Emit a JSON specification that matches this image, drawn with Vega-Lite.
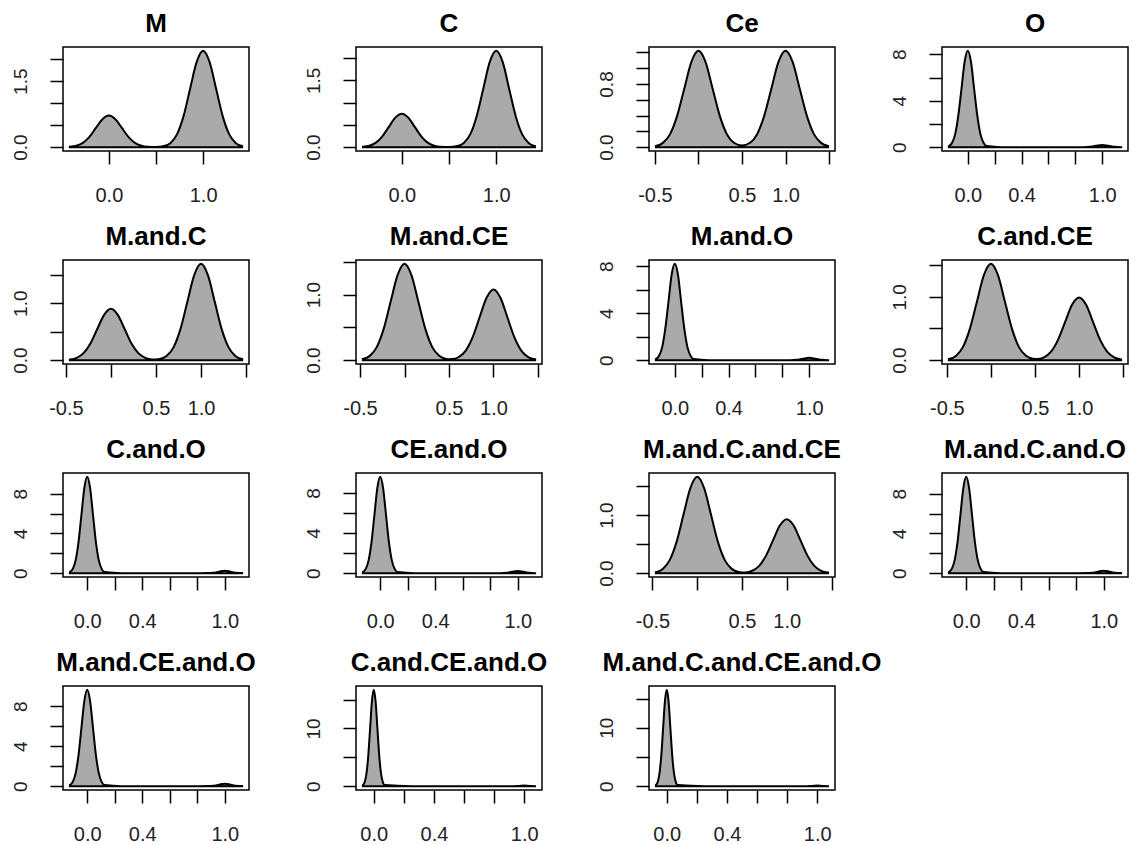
{
"$schema":"https://vega.github.io/schema/vega-lite/v6.json",
"background":"white",
"padding":{"left":10,"top":10,"right":5,"bottom":5},
"bounds":"flush",
"columns":4,
"spacing":{"row":109,"column":107},
"data":{"values":[
{"p":"M","x":-0.414,"y":0.008},{"p":"M","x":-0.345,"y":0.032},{"p":"M","x":-0.276,"y":0.097},{"p":"M","x":-0.207,"y":0.234},{"p":"M","x":-0.138,"y":0.437},{"p":"M","x":-0.069,"y":0.635},{"p":"M","x":0,"y":0.72},{"p":"M","x":0.069,"y":0.635},{"p":"M","x":0.138,"y":0.437},{"p":"M","x":0.207,"y":0.234},{"p":"M","x":0.276,"y":0.097},{"p":"M","x":0.345,"y":0.032},{"p":"M","x":0.414,"y":0.008},{"p":"M","x":0.5,"y":0.002},{"p":"M","x":0.586,"y":0.024},{"p":"M","x":0.655,"y":0.096},{"p":"M","x":0.724,"y":0.296},{"p":"M","x":0.793,"y":0.711},{"p":"M","x":0.862,"y":1.328},{"p":"M","x":0.931,"y":1.933},{"p":"M","x":1,"y":2.19},{"p":"M","x":1.069,"y":1.933},{"p":"M","x":1.138,"y":1.328},{"p":"M","x":1.207,"y":0.711},{"p":"M","x":1.276,"y":0.296},{"p":"M","x":1.345,"y":0.096},{"p":"M","x":1.414,"y":0.024},
{"p":"C","x":-0.411,"y":0.008},{"p":"C","x":-0.343,"y":0.033},{"p":"C","x":-0.274,"y":0.101},{"p":"C","x":-0.206,"y":0.244},{"p":"C","x":-0.137,"y":0.455},{"p":"C","x":-0.069,"y":0.662},{"p":"C","x":0,"y":0.75},{"p":"C","x":0.069,"y":0.662},{"p":"C","x":0.137,"y":0.455},{"p":"C","x":0.206,"y":0.244},{"p":"C","x":0.274,"y":0.101},{"p":"C","x":0.343,"y":0.033},{"p":"C","x":0.411,"y":0.008},{"p":"C","x":0.5,"y":0.002},{"p":"C","x":0.589,"y":0.024},{"p":"C","x":0.657,"y":0.095},{"p":"C","x":0.726,"y":0.292},{"p":"C","x":0.794,"y":0.701},{"p":"C","x":0.863,"y":1.31},{"p":"C","x":0.931,"y":1.906},{"p":"C","x":1,"y":2.16},{"p":"C","x":1.069,"y":1.906},{"p":"C","x":1.137,"y":1.31},{"p":"C","x":1.206,"y":0.701},{"p":"C","x":1.274,"y":0.292},{"p":"C","x":1.343,"y":0.095},{"p":"C","x":1.411,"y":0.024},
{"p":"Ce","x":-0.489,"y":0.014},{"p":"Ce","x":-0.408,"y":0.054},{"p":"Ce","x":-0.326,"y":0.165},{"p":"Ce","x":-0.245,"y":0.396},{"p":"Ce","x":-0.163,"y":0.74},{"p":"Ce","x":-0.082,"y":1.077},{"p":"Ce","x":0,"y":1.22},{"p":"Ce","x":0.082,"y":1.077},{"p":"Ce","x":0.163,"y":0.74},{"p":"Ce","x":0.245,"y":0.396},{"p":"Ce","x":0.326,"y":0.165},{"p":"Ce","x":0.408,"y":0.056},{"p":"Ce","x":0.5,"y":0.022},{"p":"Ce","x":0.592,"y":0.056},{"p":"Ce","x":0.674,"y":0.165},{"p":"Ce","x":0.755,"y":0.396},{"p":"Ce","x":0.837,"y":0.74},{"p":"Ce","x":0.918,"y":1.077},{"p":"Ce","x":1,"y":1.22},{"p":"Ce","x":1.082,"y":1.077},{"p":"Ce","x":1.163,"y":0.74},{"p":"Ce","x":1.245,"y":0.396},{"p":"Ce","x":1.326,"y":0.165},{"p":"Ce","x":1.408,"y":0.054},{"p":"Ce","x":1.489,"y":0.014},
{"p":"O","x":-0.141,"y":0.092},{"p":"O","x":-0.118,"y":0.364},{"p":"O","x":-0.094,"y":1.123},{"p":"O","x":-0.071,"y":2.695},{"p":"O","x":-0.047,"y":5.034},{"p":"O","x":-0.024,"y":7.325},{"p":"O","x":0,"y":8.3},{"p":"O","x":0.024,"y":7.325},{"p":"O","x":0.047,"y":5.034},{"p":"O","x":0.071,"y":2.695},{"p":"O","x":0.094,"y":1.123},{"p":"O","x":0.118,"y":0.364},{"p":"O","x":0.141,"y":0.092},{"p":"O","x":0.25,"y":0},{"p":"O","x":0.5,"y":0},{"p":"O","x":0.75,"y":0},{"p":"O","x":0.859,"y":0.002},{"p":"O","x":0.906,"y":0.026},{"p":"O","x":0.953,"y":0.115},{"p":"O","x":1,"y":0.19},{"p":"O","x":1.047,"y":0.115},{"p":"O","x":1.094,"y":0.026},{"p":"O","x":1.141,"y":0.002},
{"p":"M.and.C","x":-0.456,"y":0.01},{"p":"M.and.C","x":-0.38,"y":0.04},{"p":"M.and.C","x":-0.304,"y":0.122},{"p":"M.and.C","x":-0.228,"y":0.292},{"p":"M.and.C","x":-0.152,"y":0.546},{"p":"M.and.C","x":-0.076,"y":0.794},{"p":"M.and.C","x":0,"y":0.9},{"p":"M.and.C","x":0.076,"y":0.794},{"p":"M.and.C","x":0.152,"y":0.546},{"p":"M.and.C","x":0.228,"y":0.292},{"p":"M.and.C","x":0.304,"y":0.122},{"p":"M.and.C","x":0.38,"y":0.041},{"p":"M.and.C","x":0.456,"y":0.013},{"p":"M.and.C","x":0.5,"y":0.012},{"p":"M.and.C","x":0.544,"y":0.02},{"p":"M.and.C","x":0.62,"y":0.075},{"p":"M.and.C","x":0.696,"y":0.229},{"p":"M.and.C","x":0.772,"y":0.549},{"p":"M.and.C","x":0.848,"y":1.025},{"p":"M.and.C","x":0.924,"y":1.491},{"p":"M.and.C","x":1,"y":1.69},{"p":"M.and.C","x":1.076,"y":1.491},{"p":"M.and.C","x":1.152,"y":1.025},{"p":"M.and.C","x":1.228,"y":0.549},{"p":"M.and.C","x":1.304,"y":0.229},{"p":"M.and.C","x":1.38,"y":0.074},{"p":"M.and.C","x":1.456,"y":0.019},
{"p":"M.and.CE","x":-0.468,"y":0.016},{"p":"M.and.CE","x":-0.39,"y":0.065},{"p":"M.and.CE","x":-0.312,"y":0.199},{"p":"M.and.CE","x":-0.234,"y":0.477},{"p":"M.and.CE","x":-0.156,"y":0.892},{"p":"M.and.CE","x":-0.078,"y":1.297},{"p":"M.and.CE","x":0,"y":1.47},{"p":"M.and.CE","x":0.078,"y":1.297},{"p":"M.and.CE","x":0.156,"y":0.892},{"p":"M.and.CE","x":0.234,"y":0.477},{"p":"M.and.CE","x":0.312,"y":0.199},{"p":"M.and.CE","x":0.39,"y":0.066},{"p":"M.and.CE","x":0.468,"y":0.019},{"p":"M.and.CE","x":0.5,"y":0.015},{"p":"M.and.CE","x":0.532,"y":0.016},{"p":"M.and.CE","x":0.61,"y":0.048},{"p":"M.and.CE","x":0.688,"y":0.146},{"p":"M.and.CE","x":0.766,"y":0.351},{"p":"M.and.CE","x":0.844,"y":0.655},{"p":"M.and.CE","x":0.922,"y":0.953},{"p":"M.and.CE","x":1,"y":1.08},{"p":"M.and.CE","x":1.078,"y":0.953},{"p":"M.and.CE","x":1.156,"y":0.655},{"p":"M.and.CE","x":1.234,"y":0.351},{"p":"M.and.CE","x":1.312,"y":0.146},{"p":"M.and.CE","x":1.39,"y":0.047},{"p":"M.and.CE","x":1.468,"y":0.012},
{"p":"M.and.O","x":-0.141,"y":0.091},{"p":"M.and.O","x":-0.118,"y":0.36},{"p":"M.and.O","x":-0.094,"y":1.109},{"p":"M.and.O","x":-0.071,"y":2.663},{"p":"M.and.O","x":-0.047,"y":4.973},{"p":"M.and.O","x":-0.024,"y":7.237},{"p":"M.and.O","x":0,"y":8.2},{"p":"M.and.O","x":0.024,"y":7.237},{"p":"M.and.O","x":0.047,"y":4.973},{"p":"M.and.O","x":0.071,"y":2.663},{"p":"M.and.O","x":0.094,"y":1.109},{"p":"M.and.O","x":0.118,"y":0.36},{"p":"M.and.O","x":0.141,"y":0.091},{"p":"M.and.O","x":0.25,"y":0},{"p":"M.and.O","x":0.5,"y":0},{"p":"M.and.O","x":0.75,"y":0},{"p":"M.and.O","x":0.859,"y":0.002},{"p":"M.and.O","x":0.906,"y":0.027},{"p":"M.and.O","x":0.953,"y":0.121},{"p":"M.and.O","x":1,"y":0.2},{"p":"M.and.O","x":1.047,"y":0.121},{"p":"M.and.O","x":1.094,"y":0.027},{"p":"M.and.O","x":1.141,"y":0.002},
{"p":"C.and.CE","x":-0.477,"y":0.017},{"p":"C.and.CE","x":-0.398,"y":0.067},{"p":"C.and.CE","x":-0.318,"y":0.206},{"p":"C.and.CE","x":-0.239,"y":0.494},{"p":"C.and.CE","x":-0.159,"y":0.922},{"p":"C.and.CE","x":-0.08,"y":1.341},{"p":"C.and.CE","x":0,"y":1.52},{"p":"C.and.CE","x":0.08,"y":1.341},{"p":"C.and.CE","x":0.159,"y":0.922},{"p":"C.and.CE","x":0.239,"y":0.494},{"p":"C.and.CE","x":0.318,"y":0.206},{"p":"C.and.CE","x":0.398,"y":0.068},{"p":"C.and.CE","x":0.477,"y":0.021},{"p":"C.and.CE","x":0.5,"y":0.018},{"p":"C.and.CE","x":0.523,"y":0.017},{"p":"C.and.CE","x":0.602,"y":0.045},{"p":"C.and.CE","x":0.682,"y":0.134},{"p":"C.and.CE","x":0.761,"y":0.321},{"p":"C.and.CE","x":0.841,"y":0.6},{"p":"C.and.CE","x":0.92,"y":0.874},{"p":"C.and.CE","x":1,"y":0.99},{"p":"C.and.CE","x":1.08,"y":0.874},{"p":"C.and.CE","x":1.159,"y":0.6},{"p":"C.and.CE","x":1.239,"y":0.321},{"p":"C.and.CE","x":1.318,"y":0.134},{"p":"C.and.CE","x":1.398,"y":0.043},{"p":"C.and.CE","x":1.477,"y":0.011},
{"p":"C.and.O","x":-0.126,"y":0.108},{"p":"C.and.O","x":-0.105,"y":0.426},{"p":"C.and.O","x":-0.084,"y":1.312},{"p":"C.and.O","x":-0.063,"y":3.15},{"p":"C.and.O","x":-0.042,"y":5.883},{"p":"C.and.O","x":-0.021,"y":8.56},{"p":"C.and.O","x":0,"y":9.7},{"p":"C.and.O","x":0.021,"y":8.56},{"p":"C.and.O","x":0.042,"y":5.883},{"p":"C.and.O","x":0.063,"y":3.15},{"p":"C.and.O","x":0.084,"y":1.312},{"p":"C.and.O","x":0.105,"y":0.426},{"p":"C.and.O","x":0.126,"y":0.108},{"p":"C.and.O","x":0.25,"y":0},{"p":"C.and.O","x":0.5,"y":0},{"p":"C.and.O","x":0.75,"y":0},{"p":"C.and.O","x":0.874,"y":0.003},{"p":"C.and.O","x":0.916,"y":0.034},{"p":"C.and.O","x":0.958,"y":0.152},{"p":"C.and.O","x":1,"y":0.25},{"p":"C.and.O","x":1.042,"y":0.152},{"p":"C.and.O","x":1.084,"y":0.034},{"p":"C.and.O","x":1.126,"y":0.003},
{"p":"CE.and.O","x":-0.126,"y":0.107},{"p":"CE.and.O","x":-0.105,"y":0.421},{"p":"CE.and.O","x":-0.084,"y":1.299},{"p":"CE.and.O","x":-0.063,"y":3.117},{"p":"CE.and.O","x":-0.042,"y":5.822},{"p":"CE.and.O","x":-0.021,"y":8.472},{"p":"CE.and.O","x":0,"y":9.6},{"p":"CE.and.O","x":0.021,"y":8.472},{"p":"CE.and.O","x":0.042,"y":5.822},{"p":"CE.and.O","x":0.063,"y":3.117},{"p":"CE.and.O","x":0.084,"y":1.299},{"p":"CE.and.O","x":0.105,"y":0.421},{"p":"CE.and.O","x":0.126,"y":0.107},{"p":"CE.and.O","x":0.25,"y":0},{"p":"CE.and.O","x":0.5,"y":0},{"p":"CE.and.O","x":0.75,"y":0},{"p":"CE.and.O","x":0.874,"y":0.002},{"p":"CE.and.O","x":0.916,"y":0.03},{"p":"CE.and.O","x":0.958,"y":0.133},{"p":"CE.and.O","x":1,"y":0.22},{"p":"CE.and.O","x":1.042,"y":0.133},{"p":"CE.and.O","x":1.084,"y":0.03},{"p":"CE.and.O","x":1.126,"y":0.002},
{"p":"M.and.C.and.CE","x":-0.462,"y":0.018},{"p":"M.and.C.and.CE","x":-0.385,"y":0.073},{"p":"M.and.C.and.CE","x":-0.308,"y":0.225},{"p":"M.and.C.and.CE","x":-0.231,"y":0.539},{"p":"M.and.C.and.CE","x":-0.154,"y":1.007},{"p":"M.and.C.and.CE","x":-0.077,"y":1.465},{"p":"M.and.C.and.CE","x":0,"y":1.66},{"p":"M.and.C.and.CE","x":0.077,"y":1.465},{"p":"M.and.C.and.CE","x":0.154,"y":1.007},{"p":"M.and.C.and.CE","x":0.231,"y":0.539},{"p":"M.and.C.and.CE","x":0.308,"y":0.225},{"p":"M.and.C.and.CE","x":0.385,"y":0.074},{"p":"M.and.C.and.CE","x":0.462,"y":0.02},{"p":"M.and.C.and.CE","x":0.5,"y":0.013},{"p":"M.and.C.and.CE","x":0.538,"y":0.013},{"p":"M.and.C.and.CE","x":0.615,"y":0.042},{"p":"M.and.C.and.CE","x":0.692,"y":0.126},{"p":"M.and.C.and.CE","x":0.769,"y":0.302},{"p":"M.and.C.and.CE","x":0.846,"y":0.564},{"p":"M.and.C.and.CE","x":0.923,"y":0.821},{"p":"M.and.C.and.CE","x":1,"y":0.93},{"p":"M.and.C.and.CE","x":1.077,"y":0.821},{"p":"M.and.C.and.CE","x":1.154,"y":0.564},{"p":"M.and.C.and.CE","x":1.231,"y":0.302},{"p":"M.and.C.and.CE","x":1.308,"y":0.126},{"p":"M.and.C.and.CE","x":1.385,"y":0.041},{"p":"M.and.C.and.CE","x":1.462,"y":0.01},
{"p":"M.and.C.and.O","x":-0.126,"y":0.108},{"p":"M.and.C.and.O","x":-0.105,"y":0.426},{"p":"M.and.C.and.O","x":-0.084,"y":1.312},{"p":"M.and.C.and.O","x":-0.063,"y":3.15},{"p":"M.and.C.and.O","x":-0.042,"y":5.883},{"p":"M.and.C.and.O","x":-0.021,"y":8.56},{"p":"M.and.C.and.O","x":0,"y":9.7},{"p":"M.and.C.and.O","x":0.021,"y":8.56},{"p":"M.and.C.and.O","x":0.042,"y":5.883},{"p":"M.and.C.and.O","x":0.063,"y":3.15},{"p":"M.and.C.and.O","x":0.084,"y":1.312},{"p":"M.and.C.and.O","x":0.105,"y":0.426},{"p":"M.and.C.and.O","x":0.126,"y":0.108},{"p":"M.and.C.and.O","x":0.25,"y":0},{"p":"M.and.C.and.O","x":0.5,"y":0},{"p":"M.and.C.and.O","x":0.75,"y":0},{"p":"M.and.C.and.O","x":0.874,"y":0.003},{"p":"M.and.C.and.O","x":0.916,"y":0.034},{"p":"M.and.C.and.O","x":0.958,"y":0.152},{"p":"M.and.C.and.O","x":1,"y":0.25},{"p":"M.and.C.and.O","x":1.042,"y":0.152},{"p":"M.and.C.and.O","x":1.084,"y":0.034},{"p":"M.and.C.and.O","x":1.126,"y":0.003},
{"p":"M.and.CE.and.O","x":-0.126,"y":0.107},{"p":"M.and.CE.and.O","x":-0.105,"y":0.424},{"p":"M.and.CE.and.O","x":-0.084,"y":1.306},{"p":"M.and.CE.and.O","x":-0.063,"y":3.133},{"p":"M.and.CE.and.O","x":-0.042,"y":5.853},{"p":"M.and.CE.and.O","x":-0.021,"y":8.516},{"p":"M.and.CE.and.O","x":0,"y":9.65},{"p":"M.and.CE.and.O","x":0.021,"y":8.516},{"p":"M.and.CE.and.O","x":0.042,"y":5.853},{"p":"M.and.CE.and.O","x":0.063,"y":3.133},{"p":"M.and.CE.and.O","x":0.084,"y":1.306},{"p":"M.and.CE.and.O","x":0.105,"y":0.424},{"p":"M.and.CE.and.O","x":0.126,"y":0.107},{"p":"M.and.CE.and.O","x":0.25,"y":0},{"p":"M.and.CE.and.O","x":0.5,"y":0},{"p":"M.and.CE.and.O","x":0.75,"y":0},{"p":"M.and.CE.and.O","x":0.874,"y":0.003},{"p":"M.and.CE.and.O","x":0.916,"y":0.034},{"p":"M.and.CE.and.O","x":0.958,"y":0.152},{"p":"M.and.CE.and.O","x":1,"y":0.25},{"p":"M.and.CE.and.O","x":1.042,"y":0.152},{"p":"M.and.CE.and.O","x":1.084,"y":0.034},{"p":"M.and.CE.and.O","x":1.126,"y":0.003},
{"p":"C.and.CE.and.O","x":-0.072,"y":0.185},{"p":"C.and.CE.and.O","x":-0.06,"y":0.733},{"p":"C.and.CE.and.O","x":-0.048,"y":2.26},{"p":"C.and.CE.and.O","x":-0.036,"y":5.422},{"p":"C.and.CE.and.O","x":-0.024,"y":10.129},{"p":"C.and.CE.and.O","x":-0.012,"y":14.738},{"p":"C.and.CE.and.O","x":0,"y":16.7},{"p":"C.and.CE.and.O","x":0.012,"y":14.738},{"p":"C.and.CE.and.O","x":0.024,"y":10.129},{"p":"C.and.CE.and.O","x":0.036,"y":5.422},{"p":"C.and.CE.and.O","x":0.048,"y":2.26},{"p":"C.and.CE.and.O","x":0.06,"y":0.733},{"p":"C.and.CE.and.O","x":0.072,"y":0.185},{"p":"C.and.CE.and.O","x":0.25,"y":0},{"p":"C.and.CE.and.O","x":0.5,"y":0},{"p":"C.and.CE.and.O","x":0.75,"y":0},{"p":"C.and.CE.and.O","x":0.928,"y":0.001},{"p":"C.and.CE.and.O","x":0.952,"y":0.014},{"p":"C.and.CE.and.O","x":0.976,"y":0.061},{"p":"C.and.CE.and.O","x":1,"y":0.1},{"p":"C.and.CE.and.O","x":1.024,"y":0.061},{"p":"C.and.CE.and.O","x":1.048,"y":0.014},{"p":"C.and.CE.and.O","x":1.072,"y":0.001},
{"p":"M.and.C.and.CE.and.O","x":-0.072,"y":0.183},{"p":"M.and.C.and.CE.and.O","x":-0.06,"y":0.724},{"p":"M.and.C.and.CE.and.O","x":-0.048,"y":2.232},{"p":"M.and.C.and.CE.and.O","x":-0.036,"y":5.358},{"p":"M.and.C.and.CE.and.O","x":-0.024,"y":10.007},{"p":"M.and.C.and.CE.and.O","x":-0.012,"y":14.561},{"p":"M.and.C.and.CE.and.O","x":0,"y":16.5},{"p":"M.and.C.and.CE.and.O","x":0.012,"y":14.561},{"p":"M.and.C.and.CE.and.O","x":0.024,"y":10.007},{"p":"M.and.C.and.CE.and.O","x":0.036,"y":5.358},{"p":"M.and.C.and.CE.and.O","x":0.048,"y":2.232},{"p":"M.and.C.and.CE.and.O","x":0.06,"y":0.724},{"p":"M.and.C.and.CE.and.O","x":0.072,"y":0.183},{"p":"M.and.C.and.CE.and.O","x":0.25,"y":0},{"p":"M.and.C.and.CE.and.O","x":0.5,"y":0},{"p":"M.and.C.and.CE.and.O","x":0.75,"y":0},{"p":"M.and.C.and.CE.and.O","x":0.928,"y":0.001},{"p":"M.and.C.and.CE.and.O","x":0.952,"y":0.014},{"p":"M.and.C.and.CE.and.O","x":0.976,"y":0.061},{"p":"M.and.C.and.CE.and.O","x":1,"y":0.1},{"p":"M.and.C.and.CE.and.O","x":1.024,"y":0.061},{"p":"M.and.C.and.CE.and.O","x":1.048,"y":0.014},{"p":"M.and.C.and.CE.and.O","x":1.072,"y":0.001}
]},
"config":{
"view":{"stroke":"black","strokeWidth":1.5,"continuousWidth":186,"continuousHeight":104},
"font":"Liberation Sans",
"title":{"font":"Liberation Sans","fontSize":26,"fontWeight":"bold","color":"black","anchor":"middle","frame":"group","baseline":"alphabetic","offset":10},
"axis":{"domain":false,"grid":false,"ticks":true,"tickColor":"black","tickWidth":1.5,"tickSize":13,"labelColor":"#222222","labelFont":"Liberation Sans","labelOverlap":false,"labelFlush":false},
"axisX":{"labelFontSize":20,"labelBaseline":"alphabetic","labelPadding":37,"labelAlign":"center","labelAngle":0},
"axisY":{"labelFontSize":19,"labelAngle":-90,"labelAlign":"center","labelBaseline":"alphabetic","labelPadding":24}
},
"concat":[
{"title":"M","transform":[{"filter":"datum.p==='M'"}],"mark":{"type":"area","interpolate":"monotone","fill":"#AAAAAA","stroke":"black","strokeWidth":2,"opacity":1},
 "encoding":{"x":{"field":"x","type":"quantitative","title":null,"scale":{"domain":[-0.487,1.487],"nice":false,"zero":false},"axis":{"values":[0,0.5,1],"labelExpr":"datum.value == 0 ? '0.0' : datum.value == 1 ? '1.0' : ''"}},
 "y":{"field":"y","type":"quantitative","title":null,"scale":{"domain":[-0.088,2.278],"nice":false,"zero":false},"axis":{"values":[0,0.5,1,1.5,2],"labelExpr":"datum.value == 0 ? '0.0' : datum.value == 1.5 ? '1.5' : ''"}},"y2":{"datum":0}}},
{"title":"C","transform":[{"filter":"datum.p==='C'"}],"mark":{"type":"area","interpolate":"monotone","fill":"#AAAAAA","stroke":"black","strokeWidth":2,"opacity":1},
 "encoding":{"x":{"field":"x","type":"quantitative","title":null,"scale":{"domain":[-0.485,1.485],"nice":false,"zero":false},"axis":{"values":[0,0.5,1],"labelExpr":"datum.value == 0 ? '0.0' : datum.value == 1 ? '1.0' : ''"}},
 "y":{"field":"y","type":"quantitative","title":null,"scale":{"domain":[-0.086,2.246],"nice":false,"zero":false},"axis":{"values":[0,0.5,1,1.5,2],"labelExpr":"datum.value == 0 ? '0.0' : datum.value == 1.5 ? '1.5' : ''"}},"y2":{"datum":0}}},
{"title":"Ce","transform":[{"filter":"datum.p==='Ce'"}],"mark":{"type":"area","interpolate":"monotone","fill":"#AAAAAA","stroke":"black","strokeWidth":2,"opacity":1},
 "encoding":{"x":{"field":"x","type":"quantitative","title":null,"scale":{"domain":[-0.568,1.568],"nice":false,"zero":false},"axis":{"values":[-0.5,0,0.5,1,1.5],"labelExpr":"datum.value == -0.5 ? '-0.5' : datum.value == 0.5 ? '0.5' : datum.value == 1 ? '1.0' : ''"}},
 "y":{"field":"y","type":"quantitative","title":null,"scale":{"domain":[-0.049,1.269],"nice":false,"zero":false},"axis":{"values":[0,0.2,0.4,0.6,0.8,1,1.2],"labelExpr":"datum.value == 0 ? '0.0' : datum.value == 0.8 ? '0.8' : ''"}},"y2":{"datum":0}}},
{"title":"O","transform":[{"filter":"datum.p==='O'"}],"mark":{"type":"area","interpolate":"monotone","fill":"#AAAAAA","stroke":"black","strokeWidth":2,"opacity":1},
 "encoding":{"x":{"field":"x","type":"quantitative","title":null,"scale":{"domain":[-0.192,1.192],"nice":false,"zero":false},"axis":{"values":[0,0.2,0.4,0.6,0.8,1],"labelExpr":"datum.value == 0 ? '0.0' : datum.value == 0.4 ? '0.4' : datum.value == 1 ? '1.0' : ''"}},
 "y":{"field":"y","type":"quantitative","title":null,"scale":{"domain":[-0.332,8.632],"nice":false,"zero":false},"axis":{"values":[0,2,4,6,8],"labelExpr":"datum.value == 0 ? '0' : datum.value == 4 ? '4' : datum.value == 8 ? '8' : ''"}},"y2":{"datum":0}}},
{"title":"M.and.C","transform":[{"filter":"datum.p==='M.and.C'"}],"mark":{"type":"area","interpolate":"monotone","fill":"#AAAAAA","stroke":"black","strokeWidth":2,"opacity":1},
 "encoding":{"x":{"field":"x","type":"quantitative","title":null,"scale":{"domain":[-0.532,1.532],"nice":false,"zero":false},"axis":{"values":[-0.5,0,0.5,1,1.5],"labelExpr":"datum.value == -0.5 ? '-0.5' : datum.value == 0.5 ? '0.5' : datum.value == 1 ? '1.0' : ''"}},
 "y":{"field":"y","type":"quantitative","title":null,"scale":{"domain":[-0.068,1.758],"nice":false,"zero":false},"axis":{"values":[0,0.5,1,1.5],"labelExpr":"datum.value == 0 ? '0.0' : datum.value == 1 ? '1.0' : ''"}},"y2":{"datum":0}}},
{"title":"M.and.CE","transform":[{"filter":"datum.p==='M.and.CE'"}],"mark":{"type":"area","interpolate":"monotone","fill":"#AAAAAA","stroke":"black","strokeWidth":2,"opacity":1},
 "encoding":{"x":{"field":"x","type":"quantitative","title":null,"scale":{"domain":[-0.545,1.545],"nice":false,"zero":false},"axis":{"values":[-0.5,0,0.5,1,1.5],"labelExpr":"datum.value == -0.5 ? '-0.5' : datum.value == 0.5 ? '0.5' : datum.value == 1 ? '1.0' : ''"}},
 "y":{"field":"y","type":"quantitative","title":null,"scale":{"domain":[-0.059,1.529],"nice":false,"zero":false},"axis":{"values":[0,0.5,1,1.5],"labelExpr":"datum.value == 0 ? '0.0' : datum.value == 1 ? '1.0' : ''"}},"y2":{"datum":0}}},
{"title":"M.and.O","transform":[{"filter":"datum.p==='M.and.O'"}],"mark":{"type":"area","interpolate":"monotone","fill":"#AAAAAA","stroke":"black","strokeWidth":2,"opacity":1},
 "encoding":{"x":{"field":"x","type":"quantitative","title":null,"scale":{"domain":[-0.192,1.192],"nice":false,"zero":false},"axis":{"values":[0,0.2,0.4,0.6,0.8,1],"labelExpr":"datum.value == 0 ? '0.0' : datum.value == 0.4 ? '0.4' : datum.value == 1 ? '1.0' : ''"}},
 "y":{"field":"y","type":"quantitative","title":null,"scale":{"domain":[-0.328,8.528],"nice":false,"zero":false},"axis":{"values":[0,2,4,6,8],"labelExpr":"datum.value == 0 ? '0' : datum.value == 4 ? '4' : datum.value == 8 ? '8' : ''"}},"y2":{"datum":0}}},
{"title":"C.and.CE","transform":[{"filter":"datum.p==='C.and.CE'"}],"mark":{"type":"area","interpolate":"monotone","fill":"#AAAAAA","stroke":"black","strokeWidth":2,"opacity":1},
 "encoding":{"x":{"field":"x","type":"quantitative","title":null,"scale":{"domain":[-0.555,1.555],"nice":false,"zero":false},"axis":{"values":[-0.5,0,0.5,1,1.5],"labelExpr":"datum.value == -0.5 ? '-0.5' : datum.value == 0.5 ? '0.5' : datum.value == 1 ? '1.0' : ''"}},
 "y":{"field":"y","type":"quantitative","title":null,"scale":{"domain":[-0.061,1.581],"nice":false,"zero":false},"axis":{"values":[0,0.5,1,1.5],"labelExpr":"datum.value == 0 ? '0.0' : datum.value == 1 ? '1.0' : ''"}},"y2":{"datum":0}}},
{"title":"C.and.O","transform":[{"filter":"datum.p==='C.and.O'"}],"mark":{"type":"area","interpolate":"monotone","fill":"#AAAAAA","stroke":"black","strokeWidth":2,"opacity":1},
 "encoding":{"x":{"field":"x","type":"quantitative","title":null,"scale":{"domain":[-0.176,1.176],"nice":false,"zero":false},"axis":{"values":[0,0.2,0.4,0.6,0.8,1],"labelExpr":"datum.value == 0 ? '0.0' : datum.value == 0.4 ? '0.4' : datum.value == 1 ? '1.0' : ''"}},
 "y":{"field":"y","type":"quantitative","title":null,"scale":{"domain":[-0.388,10.088],"nice":false,"zero":false},"axis":{"values":[0,2,4,6,8],"labelExpr":"datum.value == 0 ? '0' : datum.value == 4 ? '4' : datum.value == 8 ? '8' : ''"}},"y2":{"datum":0}}},
{"title":"CE.and.O","transform":[{"filter":"datum.p==='CE.and.O'"}],"mark":{"type":"area","interpolate":"monotone","fill":"#AAAAAA","stroke":"black","strokeWidth":2,"opacity":1},
 "encoding":{"x":{"field":"x","type":"quantitative","title":null,"scale":{"domain":[-0.176,1.176],"nice":false,"zero":false},"axis":{"values":[0,0.2,0.4,0.6,0.8,1],"labelExpr":"datum.value == 0 ? '0.0' : datum.value == 0.4 ? '0.4' : datum.value == 1 ? '1.0' : ''"}},
 "y":{"field":"y","type":"quantitative","title":null,"scale":{"domain":[-0.384,9.984],"nice":false,"zero":false},"axis":{"values":[0,2,4,6,8],"labelExpr":"datum.value == 0 ? '0' : datum.value == 4 ? '4' : datum.value == 8 ? '8' : ''"}},"y2":{"datum":0}}},
{"title":"M.and.C.and.CE","transform":[{"filter":"datum.p==='M.and.C.and.CE'"}],"mark":{"type":"area","interpolate":"monotone","fill":"#AAAAAA","stroke":"black","strokeWidth":2,"opacity":1},
 "encoding":{"x":{"field":"x","type":"quantitative","title":null,"scale":{"domain":[-0.539,1.539],"nice":false,"zero":false},"axis":{"values":[-0.5,0,0.5,1,1.5],"labelExpr":"datum.value == -0.5 ? '-0.5' : datum.value == 0.5 ? '0.5' : datum.value == 1 ? '1.0' : ''"}},
 "y":{"field":"y","type":"quantitative","title":null,"scale":{"domain":[-0.066,1.726],"nice":false,"zero":false},"axis":{"values":[0,0.5,1,1.5],"labelExpr":"datum.value == 0 ? '0.0' : datum.value == 1 ? '1.0' : ''"}},"y2":{"datum":0}}},
{"title":"M.and.C.and.O","transform":[{"filter":"datum.p==='M.and.C.and.O'"}],"mark":{"type":"area","interpolate":"monotone","fill":"#AAAAAA","stroke":"black","strokeWidth":2,"opacity":1},
 "encoding":{"x":{"field":"x","type":"quantitative","title":null,"scale":{"domain":[-0.176,1.176],"nice":false,"zero":false},"axis":{"values":[0,0.2,0.4,0.6,0.8,1],"labelExpr":"datum.value == 0 ? '0.0' : datum.value == 0.4 ? '0.4' : datum.value == 1 ? '1.0' : ''"}},
 "y":{"field":"y","type":"quantitative","title":null,"scale":{"domain":[-0.388,10.088],"nice":false,"zero":false},"axis":{"values":[0,2,4,6,8],"labelExpr":"datum.value == 0 ? '0' : datum.value == 4 ? '4' : datum.value == 8 ? '8' : ''"}},"y2":{"datum":0}}},
{"title":"M.and.CE.and.O","transform":[{"filter":"datum.p==='M.and.CE.and.O'"}],"mark":{"type":"area","interpolate":"monotone","fill":"#AAAAAA","stroke":"black","strokeWidth":2,"opacity":1},
 "encoding":{"x":{"field":"x","type":"quantitative","title":null,"scale":{"domain":[-0.176,1.176],"nice":false,"zero":false},"axis":{"values":[0,0.2,0.4,0.6,0.8,1],"labelExpr":"datum.value == 0 ? '0.0' : datum.value == 0.4 ? '0.4' : datum.value == 1 ? '1.0' : ''"}},
 "y":{"field":"y","type":"quantitative","title":null,"scale":{"domain":[-0.386,10.036],"nice":false,"zero":false},"axis":{"values":[0,2,4,6,8],"labelExpr":"datum.value == 0 ? '0' : datum.value == 4 ? '4' : datum.value == 8 ? '8' : ''"}},"y2":{"datum":0}}},
{"title":"C.and.CE.and.O","transform":[{"filter":"datum.p==='C.and.CE.and.O'"}],"mark":{"type":"area","interpolate":"monotone","fill":"#AAAAAA","stroke":"black","strokeWidth":2,"opacity":1},
 "encoding":{"x":{"field":"x","type":"quantitative","title":null,"scale":{"domain":[-0.118,1.118],"nice":false,"zero":false},"axis":{"values":[0,0.2,0.4,0.6,0.8,1],"labelExpr":"datum.value == 0 ? '0.0' : datum.value == 0.4 ? '0.4' : datum.value == 1 ? '1.0' : ''"}},
 "y":{"field":"y","type":"quantitative","title":null,"scale":{"domain":[-0.668,17.368],"nice":false,"zero":false},"axis":{"values":[0,5,10,15],"labelExpr":"datum.value == 0 ? '0' : datum.value == 10 ? '10' : ''"}},"y2":{"datum":0}}},
{"title":"M.and.C.and.CE.and.O","transform":[{"filter":"datum.p==='M.and.C.and.CE.and.O'"}],"mark":{"type":"area","interpolate":"monotone","fill":"#AAAAAA","stroke":"black","strokeWidth":2,"opacity":1},
 "encoding":{"x":{"field":"x","type":"quantitative","title":null,"scale":{"domain":[-0.118,1.118],"nice":false,"zero":false},"axis":{"values":[0,0.2,0.4,0.6,0.8,1],"labelExpr":"datum.value == 0 ? '0.0' : datum.value == 0.4 ? '0.4' : datum.value == 1 ? '1.0' : ''"}},
 "y":{"field":"y","type":"quantitative","title":null,"scale":{"domain":[-0.66,17.16],"nice":false,"zero":false},"axis":{"values":[0,5,10,15],"labelExpr":"datum.value == 0 ? '0' : datum.value == 10 ? '10' : ''"}},"y2":{"datum":0}}}
]
}
